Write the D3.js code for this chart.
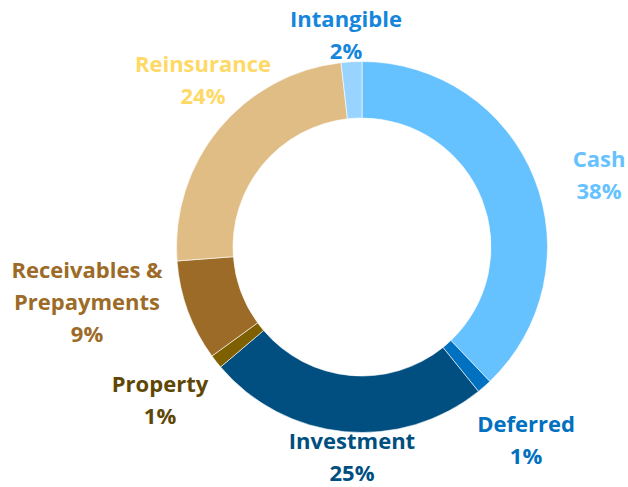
<!DOCTYPE html>
<html><head><meta charset="utf-8">
<script src="https://cdn.jsdelivr.net/npm/d3@7"></script>
<style>html,body{margin:0;padding:0;background:#fff;}</style>
</head><body>
<svg id="chart" width="628" height="487"></svg>
<script>
const categories = ["Cash", "Deferred", "Investment", "Property", "Receivables & Prepayments", "Reinsurance", "Intangible"];
const values = [37.9, 1.3, 24.6, 1.2, 8.8, 24.4, 1.8];
const sliceColors = ["#66C2FF", "#0070C0", "#004F80", "#7F6000", "#9C6B27", "#E0BD85", "#99D3FF"];
const labelColors = ["#66C2FF", "#0070C0", "#004F80", "#5E4705", "#9C6B27", "#FFD966", "#1586DB"];
const labelLines = [["Cash"], ["Deferred"], ["Investment"], ["Property"], ["Receivables &", "Prepayments"], ["Reinsurance"], ["Intangible"]];
const labelPos = [[599, 167], [526, 432], [352, 449], [160, 392], [87, 278], [203, 72], [346, 27]];

const svg = d3.select("#chart");
const cx = 362, cy = 247, R = 185.5, r = 129;
const total = d3.sum(values);
const pie = d3.pie().sort(null).value(d => d)(values);
const arc = d3.arc().innerRadius(r).outerRadius(R);
const g = svg.append("g").attr("transform", `translate(${cx},${cy})`);
g.selectAll("path").data(pie).join("path")
  .attr("d", arc)
  .attr("fill", (d, i) => sliceColors[i])
  .attr("stroke", "#fff").attr("stroke-width", 0.6);

const lineH = 32;
categories.forEach((c, i) => {
  const lines = labelLines[i].concat([Math.round(values[i] / total * 100) + "%"]);
  const t = svg.append("text")
    .attr("text-anchor", "middle")
    .attr("font-family", "'Open Sans', Lato, sans-serif")
    .attr("font-weight", "bold")
    .attr("font-size", 22)
    .attr("fill", labelColors[i]);
  lines.forEach((l, j) => {
    t.append("tspan").attr("x", labelPos[i][0]).attr("y", labelPos[i][1] + j * lineH).text(l);
  });
});
</script>
</body></html>
